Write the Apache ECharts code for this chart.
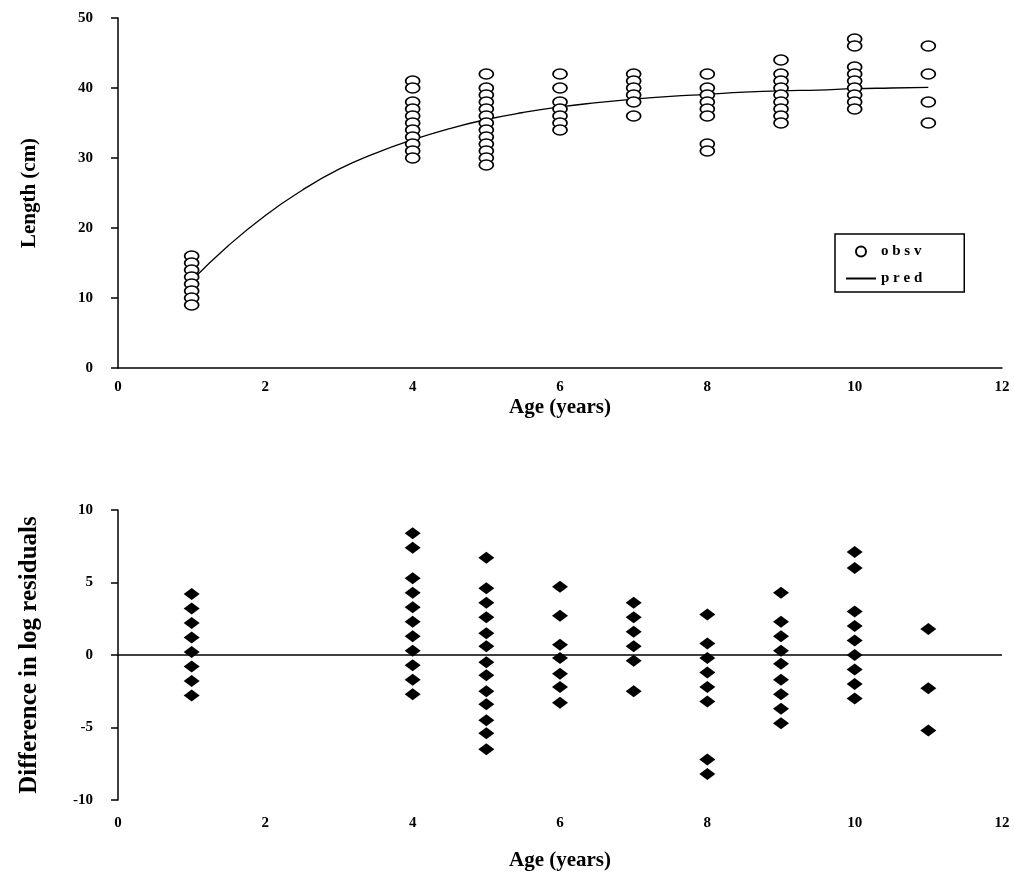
<!DOCTYPE html>
<html>
<head>
<meta charset="utf-8">
<script src="https://cdn.jsdelivr.net/npm/echarts@6/dist/echarts.min.js"></script>
<style>
  html, body { margin: 0; padding: 0; background: #fff; }
  #chart { width: 1014px; height: 889px; }
</style>
</head>
<body>
<div id="chart"></div>
<script>
// ages where fish were sampled
const ages = [1, 4, 5, 6, 7, 8, 9, 10, 11];
// observed lengths (cm) at each age
const lengthObs = [
  [16, 15, 14, 13, 12, 11, 10, 9],
  [41, 40, 38, 37, 36, 35, 34, 33, 32, 31, 30],
  [42, 40, 39, 38, 37, 36, 35, 34, 33, 32, 31, 30, 29],
  [42, 40, 38, 37, 36, 35, 34],
  [42, 41, 40, 39, 38, 36],
  [42, 40, 39, 38, 37, 36, 32, 31],
  [44, 42, 41, 40, 39, 38, 37, 36, 35],
  [47, 46, 43, 42, 41, 40, 39, 38, 37],
  [46, 42, 38, 35]
];
// predicted growth curve
const predAge = [1, 1.5, 2, 2.5, 3, 3.5, 4, 4.5, 5, 5.5, 6, 6.5, 7, 7.5, 8, 8.5, 9, 9.5, 10, 10.5, 11];
const predLen = [12.5, 17.5, 21.8, 25.4, 28.4, 30.7, 32.6, 34.2, 35.5, 36.5, 37.3, 37.9, 38.4, 38.8, 39.1, 39.4, 39.6, 39.7, 39.9, 40.0, 40.1];
// difference in log residuals at each age
const residObs = [
  [4.2, 3.2, 2.2, 1.2, 0.2, -0.8, -1.8, -2.8],
  [8.4, 7.4, 5.3, 4.3, 3.3, 2.3, 1.3, 0.3, -0.7, -1.7, -2.7],
  [6.7, 4.6, 3.6, 2.6, 1.5, 0.6, -0.5, -1.4, -2.5, -3.4, -4.5, -5.4, -6.5],
  [4.7, 2.7, 0.7, -0.2, -1.3, -2.2, -3.3],
  [3.6, 2.6, 1.6, 0.6, -0.4, -2.5],
  [2.8, 0.8, -0.2, -1.2, -2.2, -3.2, -7.2, -8.2],
  [4.3, 2.3, 1.3, 0.3, -0.6, -1.7, -2.7, -3.7, -4.7],
  [7.1, 6.0, 3.0, 2.0, 1.0, 0.0, -1.0, -2.0, -3.0],
  [1.8, -2.3, -5.2]
];

const font = "Liberation Serif";
const txt = { color: "#000", fontFamily: font, fontWeight: "bold", fontSize: 15 };
const nameTxt = { color: "#000", fontFamily: font, fontWeight: "bold", fontSize: 21 };

function pairs(vals) {
  let out = [];
  ages.forEach((a, i) => vals[i].forEach((v) => out.push([a, v])));
  return out;
}

let myChart = echarts.init(document.getElementById("chart"));

myChart.setOption({
  animation: false,
  legend: {
    left: 835,
    top: 234,
    orient: "vertical",
    borderColor: "#000",
    borderWidth: 1.5,
    padding: [10, 42, 6, 10],
    itemGap: 12,
    itemWidth: 30,
    itemHeight: 10,
    textStyle: { ...txt, fontSize: 15 },
    data: [
      { name: "obsv", icon: "circle" },
      { name: "pred", itemStyle: { opacity: 0 } }
    ],
    formatter: (n) => n.split("").join(" ")
  },
  grid: [
    { left: 118, right: 12, top: 18, height: 350 },
    { left: 118, right: 12, top: 510, height: 290 }
  ],
  xAxis: [
    {
      gridIndex: 0,
      type: "value",
      min: 0,
      max: 12,
      interval: 2,
      splitLine: { show: false },
      axisLine: { lineStyle: { color: "#000", width: 1.5 } },
      axisTick: { show: false },
      axisLabel: { ...txt, margin: 12 },
      name: "Age (years)",
      nameLocation: "middle",
      nameGap: 29,
      nameTextStyle: nameTxt
    },
    {
      gridIndex: 1,
      type: "value",
      min: 0,
      max: 12,
      interval: 2,
      splitLine: { show: false },
      axisLine: { show: false, onZero: false },
      axisTick: { show: false },
      axisLabel: { ...txt, margin: 16 },
      name: "Age (years)",
      nameLocation: "middle",
      nameGap: 50,
      nameTextStyle: nameTxt
    }
  ],
  yAxis: [
    {
      gridIndex: 0,
      type: "value",
      min: 0,
      max: 50,
      interval: 10,
      splitLine: { show: false },
      axisLine: { show: true, lineStyle: { color: "#000", width: 1.5 } },
      axisTick: { show: true, length: 7, lineStyle: { color: "#000", width: 1.5 } },
      axisLabel: { ...txt, margin: 25 },
      name: "Length (cm)",
      nameLocation: "middle",
      nameGap: 78,
      nameTextStyle: nameTxt
    },
    {
      gridIndex: 1,
      type: "value",
      min: -10,
      max: 10,
      interval: 5,
      splitLine: { show: false },
      axisLine: { show: true, lineStyle: { color: "#000", width: 1.5 } },
      axisTick: { show: true, length: 7, lineStyle: { color: "#000", width: 1.5 } },
      axisLabel: { ...txt, margin: 25 },
      name: "Difference in log residuals",
      nameLocation: "middle",
      nameGap: 76,
      nameTextStyle: { ...nameTxt, fontSize: 25 }
    }
  ],
  series: [
    {
      name: "pred",
      type: "line",
      xAxisIndex: 0,
      yAxisIndex: 0,
      data: predAge.map((a, i) => [a, predLen[i]]),
      symbol: "none",
      smooth: true,
      lineStyle: { color: "#000", width: 1.3 },
      itemStyle: { color: "#000" },
      z: 2
    },
    {
      name: "obsv",
      type: "scatter",
      xAxisIndex: 0,
      yAxisIndex: 0,
      data: pairs(lengthObs),
      symbol: "circle",
      symbolSize: [14, 10],
      itemStyle: { color: "#fff", borderColor: "#000", borderWidth: 1.5, opacity: 1 },
      z: 3
    },
    {
      name: "resid",
      type: "scatter",
      xAxisIndex: 1,
      yAxisIndex: 1,
      data: pairs(residObs),
      symbol: "diamond",
      symbolSize: [16, 12],
      itemStyle: { color: "#000", opacity: 1 },
      markLine: {
        silent: true,
        symbol: "none",
        label: { show: false },
        lineStyle: { color: "#000", width: 1.5, type: "solid" },
        data: [{ yAxis: 0 }]
      },
      z: 3
    }
  ]
});
</script>
</body>
</html>
